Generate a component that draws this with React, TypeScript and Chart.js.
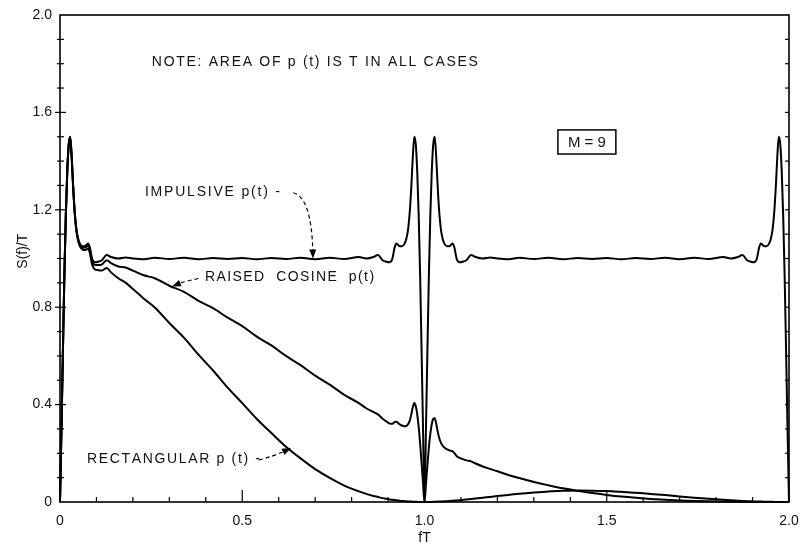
import React, { useEffect, useRef } from "react";
import { Chart, registerables } from "chart.js";

Chart.register(...registerables);

// Normalised frequency fT
const fT = [
  0, 0.004, 0.008, 0.012, 0.016, 0.02, 0.024, 0.028, 0.032, 0.036, 0.04, 0.045, 0.05, 0.055, 0.062, 0.07, 0.077, 0.082, 0.088, 0.095, 0.105, 0.115, 0.128, 0.14, 0.16, 0.18, 0.2,
  0.23, 0.26, 0.3, 0.34, 0.38, 0.42, 0.46, 0.5, 0.54, 0.58, 0.62, 0.66, 0.7, 0.74, 0.78, 0.82, 0.84, 0.86,
  0.872, 0.885, 0.895, 0.905, 0.912, 0.918, 0.923, 0.93, 0.938, 0.945, 0.95, 0.955, 0.96, 0.964, 0.968, 0.972, 0.976, 0.98, 0.984, 0.988, 0.992, 0.996, 1.0,
  1.004, 1.008, 1.012, 1.016, 1.02, 1.024, 1.028, 1.032, 1.036, 1.04, 1.045, 1.05, 1.055, 1.062, 1.07, 1.077, 1.082, 1.088, 1.095, 1.105, 1.115, 1.128, 1.14, 1.16, 1.18, 1.2,
  1.23, 1.26, 1.3, 1.34, 1.38, 1.42, 1.46, 1.5, 1.54, 1.58, 1.62, 1.66, 1.7, 1.74, 1.78, 1.82, 1.84, 1.86,
  1.872, 1.885, 1.895, 1.905, 1.912, 1.918, 1.923, 1.93, 1.938, 1.945, 1.95, 1.955, 1.96, 1.964, 1.968, 1.972, 1.976, 1.98, 1.984, 1.988, 1.992, 1.996, 2.0,
];

// S(f)/T, impulsive p(t)
const impulsive = [
  0, 0.3, 0.62, 0.93, 1.18, 1.36, 1.47, 1.5, 1.42, 1.3, 1.2, 1.12, 1.08, 1.06, 1.05, 1.052, 1.062, 1.045, 1.0, 0.985, 0.987, 0.993, 1.014, 1.006, 1.0, 1.004, 1.0,
  0.997, 1.003, 0.998, 1.003, 0.997, 1.002, 0.998, 1.002, 0.997, 1.002, 0.998, 1.003, 0.997, 1.003, 0.998, 1.006, 1.0, 1.006,
  1.014, 0.993, 0.987, 0.985, 1.0, 1.045, 1.062, 1.052, 1.05, 1.06, 1.08, 1.12, 1.2, 1.3, 1.42, 1.5, 1.47, 1.36, 1.18, 0.93, 0.62, 0.3, 0,
  0.3, 0.62, 0.93, 1.18, 1.36, 1.47, 1.5, 1.42, 1.3, 1.2, 1.12, 1.08, 1.06, 1.05, 1.052, 1.062, 1.045, 1.0, 0.985, 0.987, 0.993, 1.014, 1.006, 1.0, 1.004, 1.0,
  0.997, 1.003, 0.998, 1.003, 0.997, 1.002, 0.998, 1.002, 0.997, 1.002, 0.998, 1.003, 0.997, 1.003, 0.998, 1.006, 1.0, 1.006,
  1.014, 0.993, 0.987, 0.985, 1.0, 1.045, 1.062, 1.052, 1.05, 1.06, 1.08, 1.12, 1.2, 1.3, 1.42, 1.5, 1.47, 1.36, 1.18, 0.93, 0.62, 0.3, 0,
];

// S(f)/T, raised cosine p(t)
const raisedCosine = [
  0, 0.3, 0.62, 0.93, 1.18, 1.36, 1.469, 1.499, 1.419, 1.299, 1.197, 1.117, 1.077, 1.056, 1.045, 1.045, 1.054, 1.036, 0.99, 0.974, 0.973, 0.976, 0.993, 0.981, 0.967, 0.963, 0.95,
  0.931, 0.919, 0.888, 0.863, 0.826, 0.796, 0.757, 0.722, 0.679, 0.643, 0.6, 0.562, 0.519, 0.482, 0.44, 0.406, 0.385, 0.369,
  0.36, 0.342, 0.331, 0.322, 0.321, 0.329, 0.33, 0.321, 0.314, 0.311, 0.312, 0.319, 0.337, 0.361, 0.39, 0.407, 0.394, 0.361, 0.309, 0.241, 0.159, 0.076, 0,
  0.074, 0.151, 0.224, 0.281, 0.32, 0.342, 0.344, 0.322, 0.291, 0.265, 0.244, 0.231, 0.223, 0.216, 0.211, 0.208, 0.201, 0.189, 0.182, 0.176, 0.171, 0.167, 0.158, 0.146, 0.136, 0.126,
  0.111, 0.0985, 0.0823, 0.0687, 0.0561, 0.0457, 0.0365, 0.0289, 0.0223, 0.017, 0.0126, 0.0092, 0.0064, 0.0043, 0.0028, 0.0017, 0.0012, 0.0009,
  0.0007, 0.0005, 0.0004, 0.0003, 0.0003, 0.0002, 0.0002, 0.0002, 0.0001, 0.0001, 0.0001, 0.0001, 0.0001, 0.0001, 0, 0, 0, 0, 0, 0, 0, 0, 0,
];

// S(f)/T, rectangular p(t)
const rectangular = [
  0, 0.3, 0.62, 0.93, 1.179, 1.358, 1.467, 1.496, 1.415, 1.294, 1.194, 1.113, 1.071, 1.049, 1.037, 1.035, 1.041, 1.022, 0.975, 0.956, 0.952, 0.951, 0.961, 0.943, 0.919, 0.901, 0.875,
  0.835, 0.799, 0.735, 0.675, 0.605, 0.54, 0.47, 0.406, 0.341, 0.283, 0.227, 0.179, 0.135, 0.099, 0.0675, 0.0435, 0.0333, 0.025,
  0.0207, 0.016, 0.0131, 0.0105, 0.0091, 0.0081, 0.0072, 0.0059, 0.0045, 0.0036, 0.003, 0.0025, 0.0021, 0.0018, 0.0015, 0.0012, 0.0009, 0.0006, 0.0004, 0.0002, 0.0001, 0, 0,
  0, 0.0001, 0.0001, 0.0003, 0.0005, 0.0008, 0.0011, 0.0014, 0.0016, 0.0018, 0.0021, 0.0024, 0.0029, 0.0035, 0.0044, 0.0053, 0.0059, 0.0064, 0.0072, 0.0086, 0.0101, 0.0124, 0.0142, 0.0175, 0.021, 0.0243,
  0.0292, 0.034, 0.0392, 0.0435, 0.0459, 0.0472, 0.0467, 0.0451, 0.0419, 0.0382, 0.0333, 0.0283, 0.0229, 0.0178, 0.013, 0.0088, 0.0069, 0.0053,
  0.0045, 0.0035, 0.0029, 0.0024, 0.0021, 0.0019, 0.0017, 0.0014, 0.0011, 0.0008, 0.0007, 0.0006, 0.0005, 0.0004, 0.0003, 0.0003, 0.0002, 0.0001, 0, 0, 0, 0, 0,
];

const xTickLabels = ["0", "0.5", "1.0", "1.5", "2.0"];
const yTickLabels = ["0", "0.4", "0.8", "1.2", "1.6", "2.0"];

const FONT = '"Liberation Sans", Arial, Helvetica, sans-serif';
const INK = "#111";

function spacedText(ctx: CanvasRenderingContext2D, text: string, x: number, y: number, width: number) {
  const plain = ctx.measureText(text).width;
  const n = Math.max(1, text.length - 1);
  const sp = Math.max(0, (width - plain) / n);
  let cx = x;
  ctx.textAlign = "left";
  ctx.textBaseline = "middle";
  for (const ch of text) {
    ctx.fillText(ch, cx, y);
    cx += ctx.measureText(ch).width + sp;
  }
}

function dashedArrow(
  ctx: CanvasRenderingContext2D,
  sx: number, sy: number, cx: number, cy: number, tx: number, ty: number
) {
  ctx.save();
  ctx.setLineDash([4, 3]);
  ctx.lineWidth = 1.2;
  const ang = Math.atan2(ty - cy, tx - cx);
  const hl = 9;
  const ex = tx - Math.cos(ang) * hl * 0.8;
  const ey = ty - Math.sin(ang) * hl * 0.8;
  ctx.beginPath();
  ctx.moveTo(sx, sy);
  ctx.quadraticCurveTo(cx, cy, ex, ey);
  ctx.stroke();
  ctx.setLineDash([]);
  ctx.beginPath();
  ctx.moveTo(tx, ty);
  ctx.lineTo(tx - Math.cos(ang) * hl + Math.sin(ang) * 3.5, ty - Math.sin(ang) * hl - Math.cos(ang) * 3.5);
  ctx.lineTo(tx - Math.cos(ang) * hl - Math.sin(ang) * 3.5, ty - Math.sin(ang) * hl + Math.cos(ang) * 3.5);
  ctx.closePath();
  ctx.fill();
  ctx.restore();
}

const decorPlugin = {
  id: "decor",
  afterDraw(chart: any) {
    const { ctx, chartArea: a, scales } = chart;
    const xs = scales.x;
    const ys = scales.y;
    const px = (v: number) => xs.getPixelForValue(v);
    const py = (v: number) => ys.getPixelForValue(v);
    ctx.save();
    ctx.strokeStyle = "#000";
    ctx.fillStyle = INK;
    ctx.lineWidth = 1.6;
    ctx.strokeRect(a.left, a.top, a.right - a.left, a.bottom - a.top);

    const seg = (x1: number, y1: number, x2: number, y2: number) => {
      ctx.beginPath();
      ctx.moveTo(x1, y1);
      ctx.lineTo(x2, y2);
      ctx.stroke();
    };
    ctx.lineWidth = 1.2;
    for (let i = 1; i < 20; i++) {
      const x = px(i / 10);
      const major = i % 5 === 0;
      seg(x, a.bottom, x, a.bottom - (major ? 12 : 5));
    }
    for (let i = 1; i < 20; i++) {
      const y = py(i / 10);
      const major = i % 4 === 0;
      seg(a.left - (major ? 5 : 3), y, a.left + (major ? 6 : 4), y);
      seg(a.right, y, a.right - 4, y);
    }

    // axis titles
    ctx.font = `14px ${FONT}`;
    ctx.textAlign = "center";
    ctx.textBaseline = "middle";
    ctx.fillText("fT", px(1.0), a.bottom + 36);
    ctx.save();
    ctx.translate(a.left - 37, py(1.03));
    ctx.rotate(-Math.PI / 2);
    ctx.fillText("S(f)/T", 0, 0);
    ctx.restore();

    // annotations
    ctx.font = `14px ${FONT}`;
    spacedText(ctx, "NOTE: AREA OF p (t) IS T IN ALL CASES", px(0.252), py(1.807), 326);
    spacedText(ctx, "IMPULSIVE p(t) -", px(0.233), py(1.273), 135);
    spacedText(ctx, "RAISED  COSINE  p(t)", px(0.398), py(0.924), 169);
    spacedText(ctx, "RECTANGULAR p (t) -", px(0.074), py(0.177), 172);

    // M = 9 box
    const bx1 = px(1.366), bx2 = px(1.525), by1 = py(1.528), by2 = py(1.429);
    ctx.lineWidth = 1.5;
    ctx.strokeRect(bx1, by1, bx2 - bx1, by2 - by1);
    ctx.font = `15px ${FONT}`;
    ctx.textAlign = "center";
    ctx.textBaseline = "middle";
    ctx.fillText("M = 9", (bx1 + bx2) / 2, (by1 + by2) / 2 + 1);

    // arrows
    ctx.strokeStyle = "#000";
    ctx.fillStyle = "#000";
    dashedArrow(ctx, px(0.64), py(1.27), px(0.69), py(1.25), px(0.694), py(1.0));
    dashedArrow(ctx, px(0.38), py(0.918), px(0.34), py(0.905), px(0.307), py(0.885));
    dashedArrow(ctx, px(0.545), py(0.172), px(0.59), py(0.19), px(0.634), py(0.222));

    ctx.restore();
  },
};

export default function App() {
  const ref = useRef<HTMLCanvasElement | null>(null);
  useEffect(() => {
    if (!ref.current) return;
    const toPts = (ys: number[]) => fT.map((x, i) => ({ x, y: ys[i] }));
    const ds = (label: string, ys: number[]) => ({
      label,
      data: toPts(ys),
      borderColor: "#000",
      borderWidth: 2,
      pointRadius: 0,
      fill: false,
      cubicInterpolationMode: "monotone" as const,
      clip: false as const,
    });
    const chart = new Chart(ref.current, {
      type: "line",
      data: {
        datasets: [
          ds("Impulsive p(t)", impulsive),
          ds("Raised cosine p(t)", raisedCosine),
          ds("Rectangular p(t)", rectangular),
        ],
      },
      options: {
        responsive: false,
        animation: false,
        parsing: false as any,
        layout: { padding: { top: 15, right: 12, left: 0, bottom: 0 } },
        plugins: { legend: { display: false }, tooltip: { enabled: false } },
        scales: {
          x: {
            type: "linear",
            min: 0,
            max: 2,
            afterFit: (s: any) => {
              s.height = 47;
              s.paddingLeft = 0;
              s.paddingRight = 0;
            },
            grid: { display: false, drawTicks: false },
            border: { display: false },
            ticks: {
              stepSize: 0.5,
              padding: 11,
              autoSkip: false,
              maxRotation: 0,
              color: INK,
              font: { family: FONT, size: 14 },
              callback: (_v: any, i: number) => xTickLabels[i],
            },
          },
          y: {
            type: "linear",
            min: 0,
            max: 2,
            afterFit: (s: any) => {
              s.width = 60;
              s.paddingTop = 0;
              s.paddingBottom = 0;
            },
            grid: { display: false, drawTicks: false },
            border: { display: false },
            ticks: {
              stepSize: 0.4,
              padding: 8,
              autoSkip: false,
              color: INK,
              font: { family: FONT, size: 14 },
              callback: (_v: any, i: number) => yTickLabels[i],
            },
          },
        },
      },
      plugins: [decorPlugin],
    });
    return () => chart.destroy();
  }, []);
  return (
    <div style={{ position: "absolute", left: 0, top: 0, width: 801, height: 549, background: "#fff" }}>
      <canvas ref={ref} width={801} height={549} style={{ display: "block" }} />
    </div>
  );
}
